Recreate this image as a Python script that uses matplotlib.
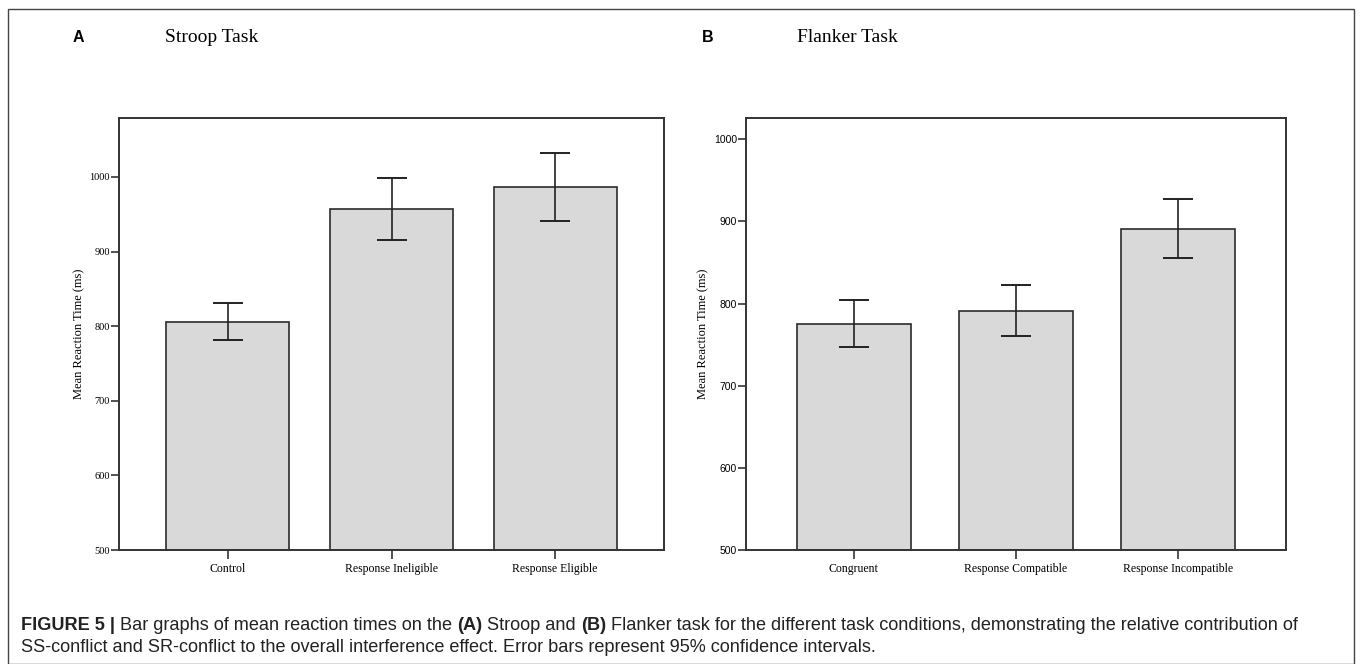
import matplotlib
matplotlib.use("Agg")
import matplotlib.pyplot as plt
from matplotlib.patches import Rectangle
import numpy as np

# Panel A: Stroop task
stroop_conditions = ["Control", "Response Ineligible", "Response Eligible"]
stroop_means = [806, 957, 986]
stroop_lower = [781, 916, 941]
stroop_upper = [831, 998, 1032]

# Panel B: Flanker task
flanker_conditions = ["Congruent", "Response Compatible", "Response Incompatible"]
flanker_means = [775, 791, 890.5]
flanker_lower = [747, 760, 855]
flanker_upper = [804, 823, 927]

y_ticks = [500, 600, 700, 800, 900, 1000]

serif = ["Liberation Serif", "DejaVu Serif"]
sans = ["Liberation Sans", "DejaVu Sans"]

bar_color = "#d9d9d9"
edge_color = "#2b2b2b"

fig = plt.figure(figsize=(13.6, 6.64), dpi=100)

# outer frame around the whole figure
fig.patches.append(Rectangle((8 / 1360, 0.0), 1346 / 1360, 1 - 9 / 664,
                             transform=fig.transFigure, fill=False,
                             edgecolor="#444444", linewidth=1.0))


def draw_panel(ax, labels, means, lower, upper, ylim_top, width, tick_family):
    x = np.arange(len(labels))
    means = np.array(means)
    yerr = [means - np.array(lower), np.array(upper) - means]
    ax.bar(x, means - 500, bottom=500, width=width, color=bar_color,
           edgecolor=edge_color, linewidth=1.2, zorder=2)
    ax.errorbar(x, means, yerr=yerr, fmt="none", ecolor="#222222",
                elinewidth=1.2, capsize=11, capthick=1.4, zorder=3)
    ax.set_xlim(-0.665, 2.665)
    ax.set_ylim(500, ylim_top)
    ax.set_yticks(y_ticks)
    ax.set_yticklabels([str(t) for t in y_ticks], family=tick_family, fontsize=7.5)
    ax.set_xticks(x)
    ax.set_xticklabels(labels, family=serif, fontsize=8.5)
    ax.tick_params(axis="y", direction="out", length=5.5, width=1.2,
                   color="#333333", pad=1)
    ax.tick_params(axis="x", direction="out", length=6.5, width=1.2,
                   color="#333333", pad=3)
    for side in ["left", "right", "top", "bottom"]:
        ax.spines[side].set_color("#333333")
        ax.spines[side].set_linewidth(1.4)
    ax.set_ylabel("Mean Reaction Time (ms)", family=serif, fontsize=9, labelpad=3)


ax_a = fig.add_axes([119 / 1360, 1 - 550 / 664, 545 / 1360, 432 / 664])
draw_panel(ax_a, stroop_conditions, stroop_means, stroop_lower, stroop_upper,
           1079, 0.75, serif)

ax_b = fig.add_axes([746 / 1360, 1 - 550 / 664, 540 / 1360, 432 / 664])
draw_panel(ax_b, flanker_conditions, flanker_means, flanker_lower, flanker_upper,
           1026, 0.70, sans)

# panel letters and titles
fig.text(73 / 1360, 1 - 37 / 664, "A", family=sans, fontweight="bold",
         fontsize=11.5, va="center")
fig.text(165 / 1360, 1 - 37 / 664, "Stroop Task", family=serif,
         fontsize=14, va="center")
fig.text(702 / 1360, 1 - 37 / 664, "B", family=sans, fontweight="bold",
         fontsize=11.5, va="center")
fig.text(797 / 1360, 1 - 37 / 664, "Flanker Task", family=serif,
         fontsize=14, va="center")

# caption
cap_size = 13.1
cap_y1 = 1 - 626 / 664
cap_y2 = 1 - 648 / 664
t = fig.text(21 / 1360, cap_y1, "FIGURE 5 | ", family=sans, fontweight="bold",
             fontsize=cap_size, va="center", color="#222222")
fig.canvas.draw()
renderer = fig.canvas.get_renderer()
bb = t.get_window_extent(renderer)
x_next = bb.x1 / fig.bbox.width
pieces = [("Bar graphs of mean reaction times on the ", "normal"),
          ("(A)", "bold"), (" Stroop and ", "normal"), ("(B)", "bold"),
          (" Flanker task for the different task conditions, demonstrating the relative contribution of", "normal")]
for txt, weight in pieces:
    tt = fig.text(x_next, cap_y1, txt, family=sans, fontweight=weight,
                  fontsize=cap_size, va="center", color="#222222")
    bb = tt.get_window_extent(renderer)
    x_next = bb.x1 / fig.bbox.width
fig.text(21 / 1360, cap_y2,
         "SS-conflict and SR-conflict to the overall interference effect. "
         "Error bars represent 95% confidence intervals.",
         family=sans, fontsize=cap_size, va="center", color="#222222")

fig.savefig("out.png", dpi=100)
